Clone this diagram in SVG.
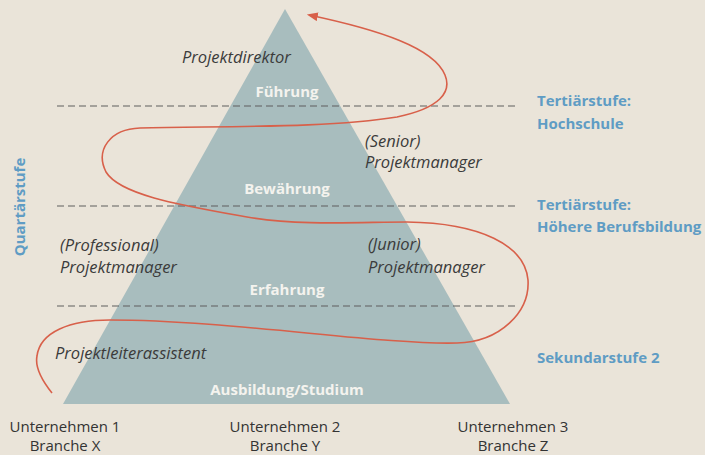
<svg xmlns="http://www.w3.org/2000/svg" width="705" height="455" viewBox="0 0 705 455">
<style>
.role{font-family:"Open Sans","Liberation Sans",sans-serif;font-style:italic;font-size:16.5px;fill:#3b3b3b}
.stage{font-family:"Open Sans","Liberation Sans",sans-serif;font-weight:bold;font-size:15px;fill:#f4f3ee;text-anchor:middle}
.level{font-family:"Open Sans","Liberation Sans",sans-serif;font-weight:bold;font-size:15px;fill:#5f9cc4}
.company{font-family:"Open Sans","Liberation Sans",sans-serif;font-size:15px;fill:#333;text-anchor:middle}
.dash{stroke:#5e5e5e;stroke-width:1.2;stroke-dasharray:7 4;fill:none}
.spiral{stroke:#d8604a;stroke-width:1.6;fill:none}
</style>
<defs>
<marker id="arrow" viewBox="0 0 10 8" refX="8" refY="4" markerWidth="11" markerHeight="9" markerUnits="userSpaceOnUse" orient="auto">
<path d="M0,0 L10,4 L0,8 z" fill="#d8604a"/>
</marker>
</defs>
<rect width="705" height="455" fill="#eae4d9"/>
<g id="pyramid">
<polygon points="285,9 63,404 510,404" fill="#a8bdbe"/>
</g>
<g id="levels-lines">
<line class="dash" x1="57" y1="106" x2="515" y2="106"/>
<line class="dash" x1="57" y1="206" x2="515" y2="206"/>
<line class="dash" x1="57" y1="306" x2="515" y2="306"/>
</g>
<g id="stages">
<text class="stage" x="287" y="97">Führung</text>
<text class="stage" x="287" y="194">Bewährung</text>
<text class="stage" x="287" y="295">Erfahrung</text>
<text class="stage" x="287" y="395">Ausbildung/Studium</text>
</g>
<g id="connectors">
<path class="spiral" marker-end="url(#arrow)" d="M52,393 C40,378 35,366 37,356 C40,332 70,320 110,320 C230,320 380,345 457,343 C500,342 530,312 528,280 C525,245 480,223 407,222 C360,222 300,226 247,217 C180,205 120,195 106,172 C95,150 110,129 140,128 C230,126 330,128 397,117 C440,108 452,92 445,75 C434,48 380,30 309,15"/>
</g>
<g id="node-projektdirektor">
<text class="role" x="182" y="63">Projektdirektor</text>
</g>
<g id="node-senior">
<text class="role" x="365" y="147">(Senior)</text>
<text class="role" x="365" y="168">Projektmanager</text>
</g>
<g id="node-professional">
<text class="role" x="60" y="251">(Professional)</text>
<text class="role" x="60" y="273">Projektmanager</text>
</g>
<g id="node-junior">
<text class="role" x="368" y="250">(Junior)</text>
<text class="role" x="368" y="273">Projektmanager</text>
</g>
<g id="node-assistent">
<text class="role" x="55" y="359">Projektleiterassistent</text>
</g>
<g id="education-levels">
<text class="level" x="537" y="106">Tertiärstufe:</text>
<text class="level" x="537" y="129">Hochschule</text>
<text class="level" x="537" y="210">Tertiärstufe:</text>
<text class="level" x="537" y="232">Höhere Berufsbildung</text>
<text class="level" x="537" y="363">Sekundarstufe 2</text>
<text class="level" transform="translate(25,207) rotate(-90)" text-anchor="middle">Quartärstufe</text>
</g>
<g id="companies">
<text class="company" x="65" y="432">Unternehmen 1</text>
<text class="company" x="65" y="451">Branche X</text>
<text class="company" x="285" y="432">Unternehmen 2</text>
<text class="company" x="285" y="451">Branche Y</text>
<text class="company" x="513" y="432">Unternehmen 3</text>
<text class="company" x="513" y="451">Branche Z</text>
</g>
</svg>
